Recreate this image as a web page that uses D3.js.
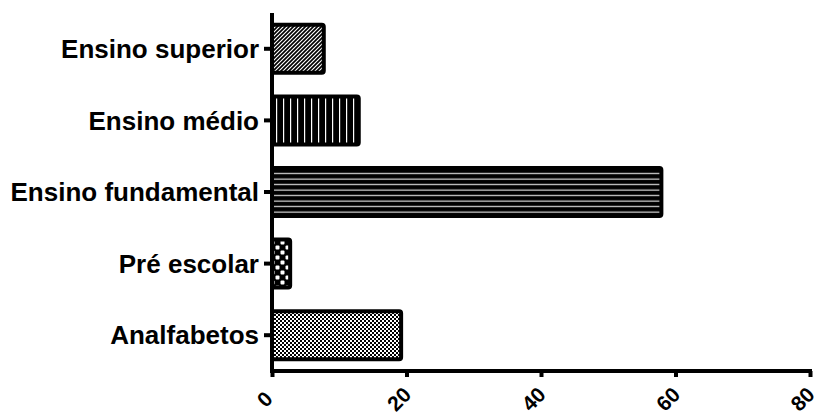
<!DOCTYPE html>
<html><head><meta charset="utf-8">
<script src="https://cdn.jsdelivr.net/npm/d3@7"></script>
<style>body{margin:0;background:#fff}svg{display:block}text{font-family:"Liberation Sans",Arial,sans-serif;font-weight:bold}</style>
</head><body><div id="c"></div>
<script>
const categories = ["Ensino superior","Ensino médio","Ensino fundamental","Pré escolar","Analfabetos"];
const values = [7.7, 12.9, 57.9, 2.7, 19.2];
const patterns = ["diag","vert","horiz","bigcheck","finecheck"];
const xTicks = [0,20,40,60,80];

const W=817,H=416;
const svg=d3.select("#c").append("svg").attr("width",W).attr("height",H);
const defs=svg.append("defs");
// diagonal
let p=defs.append("pattern").attr("id","diag").attr("patternUnits","userSpaceOnUse").attr("width",4).attr("height",4);
p.append("rect").attr("width",4).attr("height",4).attr("fill","#fff");
p.append("path").attr("d","M-1,1 l2,-2 M0,4 l4,-4 M3,5 l2,-2").attr("stroke","#000").attr("stroke-width",1.7);
// vertical
p=defs.append("pattern").attr("id","vert").attr("patternUnits","userSpaceOnUse").attr("width",7).attr("height",7);
p.append("rect").attr("width",7).attr("height",7).attr("fill","#000");
p.append("rect").attr("x",3).attr("width",1.2).attr("height",7).attr("fill","#fff");
// horizontal
p=defs.append("pattern").attr("id","horiz").attr("patternUnits","userSpaceOnUse").attr("width",6).attr("height",5.5);
p.append("rect").attr("width",6).attr("height",5.5).attr("fill","#000");
p.append("rect").attr("y",2.5).attr("width",6).attr("height",1.2).attr("fill","#ddd");
// big checker
p=defs.append("pattern").attr("id","bigcheck").attr("patternUnits","userSpaceOnUse").attr("width",10).attr("height",10);
p.append("rect").attr("width",10).attr("height",10).attr("fill","#000");
p.append("rect").attr("x",0.5).attr("y",0.5).attr("width",4).attr("height",4).attr("rx",1).attr("fill","#fff");
p.append("rect").attr("x",5.5).attr("y",5.5).attr("width",4).attr("height",4).attr("rx",1).attr("fill","#fff");
// fine checker
p=defs.append("pattern").attr("id","finecheck").attr("patternUnits","userSpaceOnUse").attr("width",4).attr("height",4);
p.append("rect").attr("width",4).attr("height",4).attr("fill","#fff");
p.append("rect").attr("x",0).attr("y",0).attr("width",2).attr("height",2).attr("fill","#000");
p.append("rect").attr("x",2).attr("y",2).attr("width",2).attr("height",2).attr("fill","#000");

const x=d3.scaleLinear().domain([0,80]).range([272,810]);
const y=d3.scaleBand().domain(categories).range([13,371]).paddingInner(0.33).paddingOuter(0.165);

svg.selectAll("rect.bar").data(categories).join("rect").attr("class","bar")
  .attr("x",x(0)).attr("y",d=>y(d))
  .attr("width",(d,i)=>x(values[i])-x(0)).attr("height",y.bandwidth())
  .attr("rx",2).attr("fill",(d,i)=>`url(#${patterns[i]})`)
  .attr("stroke","#000").attr("stroke-width",4).attr("stroke-linejoin","round");

// y axis
const ya=svg.append("g").attr("transform",`translate(${x(0)},0)`)
  .call(d3.axisLeft(y).tickSize(8).tickPadding(5).tickSizeOuter(0));
ya.select(".domain").attr("stroke-width",4).attr("d",`M0,13V373`);
ya.selectAll(".tick line").attr("stroke-width",4);
ya.selectAll(".tick text").attr("font-size",26).attr("fill","#000").attr("dy","0.35em");

// x axis
const xa=svg.append("g").attr("transform",`translate(0,371)`)
  .call(d3.axisBottom(x).tickValues(xTicks).tickSize(6).tickSizeOuter(0));
xa.select(".domain").attr("stroke-width",4).attr("d",`M270,0H${x(80)+2}`);
xa.selectAll(".tick line").attr("stroke-width",4);
xa.selectAll(".tick text").attr("font-size",21).attr("fill","#000")
  .attr("text-anchor","middle").attr("dy","0.36em").attr("y",0)
  .attr("transform","translate(-8,28) rotate(-45)");
</script></body></html>
